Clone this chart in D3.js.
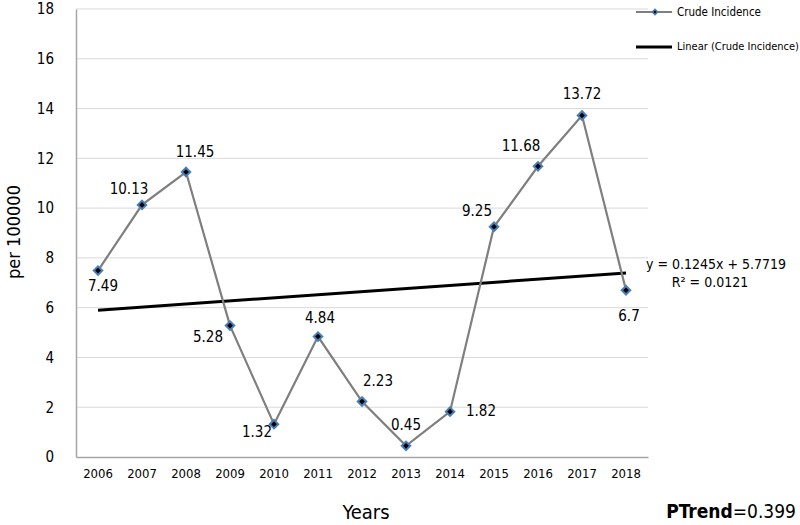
<!DOCTYPE html>
<html><head><meta charset="utf-8">
<script src="https://cdn.jsdelivr.net/npm/d3@7"></script>
<style>body{margin:0;background:#fff}svg{display:block}text{font-family:"DejaVu Sans Condensed","DejaVu Sans",sans-serif;fill:#000}</style>
</head><body>
<svg id="c" width="800" height="525"></svg>
<script>
const years = ["2006","2007","2008","2009","2010","2011","2012","2013","2014","2015","2016","2017","2018"];
const incidence = [7.49,10.13,11.45,5.28,1.32,4.84,2.23,0.45,1.82,9.25,11.68,13.72,6.7];
const yTicks = [0,2,4,6,8,10,12,14,16,18];
const trendSlope = 0.1245, trendIntercept = 5.7719, rSquared = "0.0121";
const labelOffsets = [[5,16],[-13,-15],[9,-20],[-22,12],[-17,8],[2,-18],[16,-20],[0,-20],[31,0],[-17,-15],[-17,-20],[0,-21],[3,26]];

const svg = d3.select("#c");
const x = d3.scaleBand().domain(years).range([76,648]);
const y = d3.scaleLinear().domain([0,18]).range([457,9]);
const cx = d => x(d) + x.bandwidth()/2;

// gridlines
svg.append("g").selectAll("line").data(yTicks.filter(t=>t>0)).join("line")
  .attr("x1",76).attr("x2",648).attr("y1",d=>y(d)).attr("y2",d=>y(d))
  .attr("stroke","#d9d9d9").attr("stroke-width",1);

// axes
const yAxis = svg.append("g").attr("transform","translate(76,0)").call(d3.axisLeft(y).tickValues(yTicks).tickSize(0).tickPadding(22));
yAxis.select(".domain").attr("stroke","#a6a6a6").attr("stroke-width",1.5);
yAxis.selectAll("text").attr("font-size",15);
const xAxis = svg.append("g").attr("transform","translate(0,457)").call(d3.axisBottom(x).tickSize(0).tickPadding(12));
xAxis.select(".domain").attr("stroke","#a6a6a6").attr("stroke-width",1.5);
xAxis.selectAll("text").attr("font-size",13);

// trend line
const trend = i => trendIntercept + trendSlope*(i+1);
svg.append("line").attr("x1",cx(years[0])).attr("y1",y(trend(0)))
  .attr("x2",cx(years[years.length-1])).attr("y2",y(trend(years.length-1)))
  .attr("stroke","#000").attr("stroke-width",3);

// data line
svg.append("path").datum(incidence)
  .attr("d", d3.line().x((d,i)=>cx(years[i])).y(d=>y(d)))
  .attr("fill","none").attr("stroke","#7f7f7f").attr("stroke-width",2.2);

// markers
svg.append("g").selectAll("path").data(incidence).join("path")
  .attr("transform",(d,i)=>`translate(${cx(years[i])},${y(d)}) rotate(45)`)
  .attr("d", d3.symbol().type(d3.symbolSquare).size(36))
  .attr("fill","#000").attr("stroke","#4a7ebb").attr("stroke-width",2);

// data labels
svg.append("g").selectAll("text").data(incidence).join("text")
  .attr("x",(d,i)=>cx(years[i])+labelOffsets[i][0])
  .attr("y",(d,i)=>y(d)+labelOffsets[i][1])
  .attr("text-anchor","middle").attr("dominant-baseline","middle")
  .attr("font-size",15).text(d=>d);

// equation
svg.append("text").attr("x",716).attr("y",265).attr("text-anchor","middle").attr("dominant-baseline","middle").attr("font-size",14)
  .text(`y = ${trendSlope}x + ${trendIntercept}`);
svg.append("text").attr("x",710).attr("y",283).attr("text-anchor","middle").attr("dominant-baseline","middle").attr("font-size",14)
  .text(`R² = ${rSquared}`);

// legend
const lg = svg.append("g");
lg.append("line").attr("x1",636).attr("x2",672).attr("y1",12).attr("y2",12).attr("stroke","#7f7f7f").attr("stroke-width",2);
lg.append("path").attr("transform","translate(655,12) rotate(45)").attr("d",d3.symbol().type(d3.symbolSquare).size(14)).attr("fill","#000").attr("stroke","#4a7ebb").attr("stroke-width",1.5);
lg.append("text").attr("x",677).attr("y",12).attr("dominant-baseline","middle").attr("font-size",11.5)
  .text("Crude Incidence");
lg.append("line").attr("x1",636).attr("x2",672).attr("y1",47).attr("y2",47).attr("stroke","#000").attr("stroke-width",3);
lg.append("text").attr("x",677).attr("y",47).attr("dominant-baseline","middle").attr("font-size",11)
  .text("Linear (Crude Incidence)");

// axis titles
svg.append("text").attr("transform","translate(15,232) rotate(-90)").attr("text-anchor","middle").attr("dominant-baseline","middle").attr("font-size",18).text("per 100000");
svg.append("text").attr("x",366).attr("y",513).attr("text-anchor","middle").attr("dominant-baseline","middle").attr("font-size",20).text("Years");
const pt = svg.append("text").attr("x",796).attr("y",512).attr("text-anchor","end").attr("dominant-baseline","middle").attr("font-size",19);
pt.append("tspan").attr("font-weight","bold").text("PTrend");
pt.append("tspan").text("=0.399");
</script>
</body></html>
